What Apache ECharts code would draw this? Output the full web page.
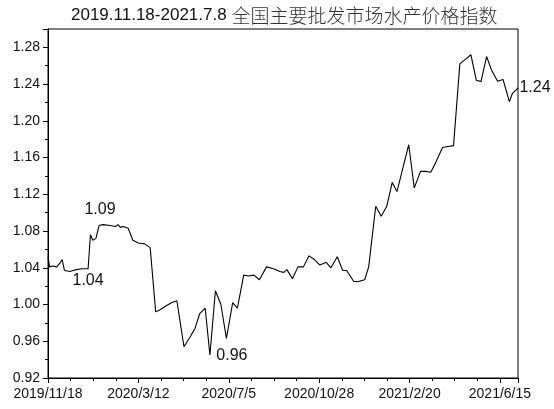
<!DOCTYPE html>
<html>
<head>
<meta charset="utf-8">
<script src="https://cdn.jsdelivr.net/npm/echarts@6/dist/echarts.min.js"></script>
<style>
  html, body { margin: 0; padding: 0; background: #fff; }
  #main { width: 554px; height: 409px; }
</style>
</head>
<body>
<div id="main"></div>
<script>
// 横轴: 距 2019/11/18 的天数
var dayOffsets = [0, 2, 6, 11, 15, 18, 21, 28, 32, 36, 43, 51, 54, 57, 61, 65, 70, 79, 86, 89,
  92, 96, 102, 108, 115, 123, 130, 137, 142, 151, 157, 164, 173, 181, 187, 193, 200, 206, 213, 220,
  227, 235, 241, 249, 255, 262, 269, 278, 287, 295, 300, 304, 311, 318, 325, 332, 339, 346, 354, 360,
  368, 375, 380, 389, 395, 403, 408, 417, 424, 431, 438, 444, 459, 466, 474, 480, 487, 493, 502, 509,
  516, 524, 531, 538, 545, 551, 558, 564, 572, 579, 587, 591, 596, 598];
// 指数值
var indexValues = [1.052, 1.041, 1.042, 1.041, 1.045, 1.049, 1.037, 1.036, 1.037, 1.038, 1.039, 1.039, 1.076, 1.070, 1.072, 1.086, 1.087, 1.086, 1.085, 1.087,
  1.084, 1.085, 1.083, 1.070, 1.067, 1.066, 1.062, 0.992, 0.994, 0.999, 1.002, 1.004, 0.954, 0.965, 0.974, 0.990, 0.996, 0.945, 1.015, 1.000,
  0.963, 1.002, 0.996, 1.032, 1.031, 1.032, 1.027, 1.041, 1.039, 1.036, 1.035, 1.038, 1.028, 1.041, 1.041, 1.053, 1.049, 1.043, 1.046, 1.040,
  1.052, 1.037, 1.037, 1.025, 1.025, 1.027, 1.041, 1.107, 1.096, 1.107, 1.133, 1.123, 1.174, 1.127, 1.145, 1.145, 1.144, 1.154, 1.171, 1.172,
  1.173, 1.262, 1.267, 1.272, 1.244, 1.243, 1.270, 1.256, 1.243, 1.245, 1.221, 1.230, 1.234, 1.236];
// 横轴刻度标签 (每 115 天)
var tickLabels = ['2019/11/18', '2020/3/12', '2020/7/5', '2020/10/28', '2021/2/20', '2021/6/15'];
// 标注: 天数, 数值, 文字
var noteDays = [70, 51, 206, 598];
var noteValues = [1.087, 1.039, 0.945, 1.236];
var noteTexts = ['1.09', '1.04', '0.96', '1.24'];

var lineData = [];
for (var i = 0; i < dayOffsets.length; i++) {
  lineData.push([dayOffsets[i], indexValues[i]]);
}
// 标注文字的偏移
var noteOffsets = [[-3, -15], [0, 12], [22, 1], [17, 0]];
var notes = [];
for (var j = 0; j < noteTexts.length; j++) {
  notes.push({
    coord: [noteDays[j], noteValues[j]],
    label: { formatter: noteTexts[j], offset: noteOffsets[j] }
  });
}

var font = 'Liberation Sans, Arial, sans-serif';
var myChart = echarts.init(document.getElementById('main'));
var option = {
  backgroundColor: '#fff',
  animation: false,
  title: {
    text: '{a|2019.11.18-2021.7.8 }{b|全国主要批发市场水产价格指数}',
    left: 66,
    top: 1,
    textStyle: {
      fontWeight: 'normal',
      rich: {
        a: { fontFamily: font, fontSize: 17, fontWeight: 'normal', color: '#111' },
        b: { fontFamily: 'Noto Sans CJK SC', fontSize: 19, fontWeight: 300, color: '#333' }
      }
    }
  },
  grid: {
    left: 48, right: 36, top: 29, bottom: 31,
    show: true, borderColor: '#000', borderWidth: 1, backgroundColor: '#fff'
  },
  xAxis: {
    type: 'value',
    min: 0,
    max: 598,
    interval: 115,
    axisLine: { lineStyle: { color: '#000', width: 1 } },
    axisTick: { length: 5, lineStyle: { color: '#000' } },
    minorTick: { show: true, splitNumber: 4, length: 3, lineStyle: { color: '#000' } },
    splitLine: { show: false },
    axisLabel: {
      fontFamily: font, fontSize: 14, color: '#111', margin: 9,
      showMaxLabel: false,
      formatter: function (v) { return tickLabels[Math.round(v / 115)] || ''; }
    }
  },
  yAxis: {
    type: 'value',
    min: 0.92,
    max: 1.30,
    interval: 0.04,
    axisLine: { show: true, lineStyle: { color: '#000', width: 1 } },
    axisTick: { length: 5, lineStyle: { color: '#000' } },
    minorTick: { show: true, splitNumber: 2, length: 3, lineStyle: { color: '#000' } },
    splitLine: { show: false },
    axisLabel: {
      fontFamily: font, fontSize: 14, color: '#111', margin: 8,
      showMaxLabel: false,
      formatter: function (v) { return v.toFixed(2); }
    }
  },
  series: [{
    type: 'line',
    data: lineData,
    symbol: 'none',
    lineStyle: { color: '#000', width: 1.1 },
    markPoint: {
      symbol: 'circle',
      symbolSize: 0,
      label: { show: true, position: 'inside', fontFamily: font, fontSize: 16, color: '#111' },
      data: notes
    }
  }]
};
myChart.setOption(option);
</script>
</body>
</html>
